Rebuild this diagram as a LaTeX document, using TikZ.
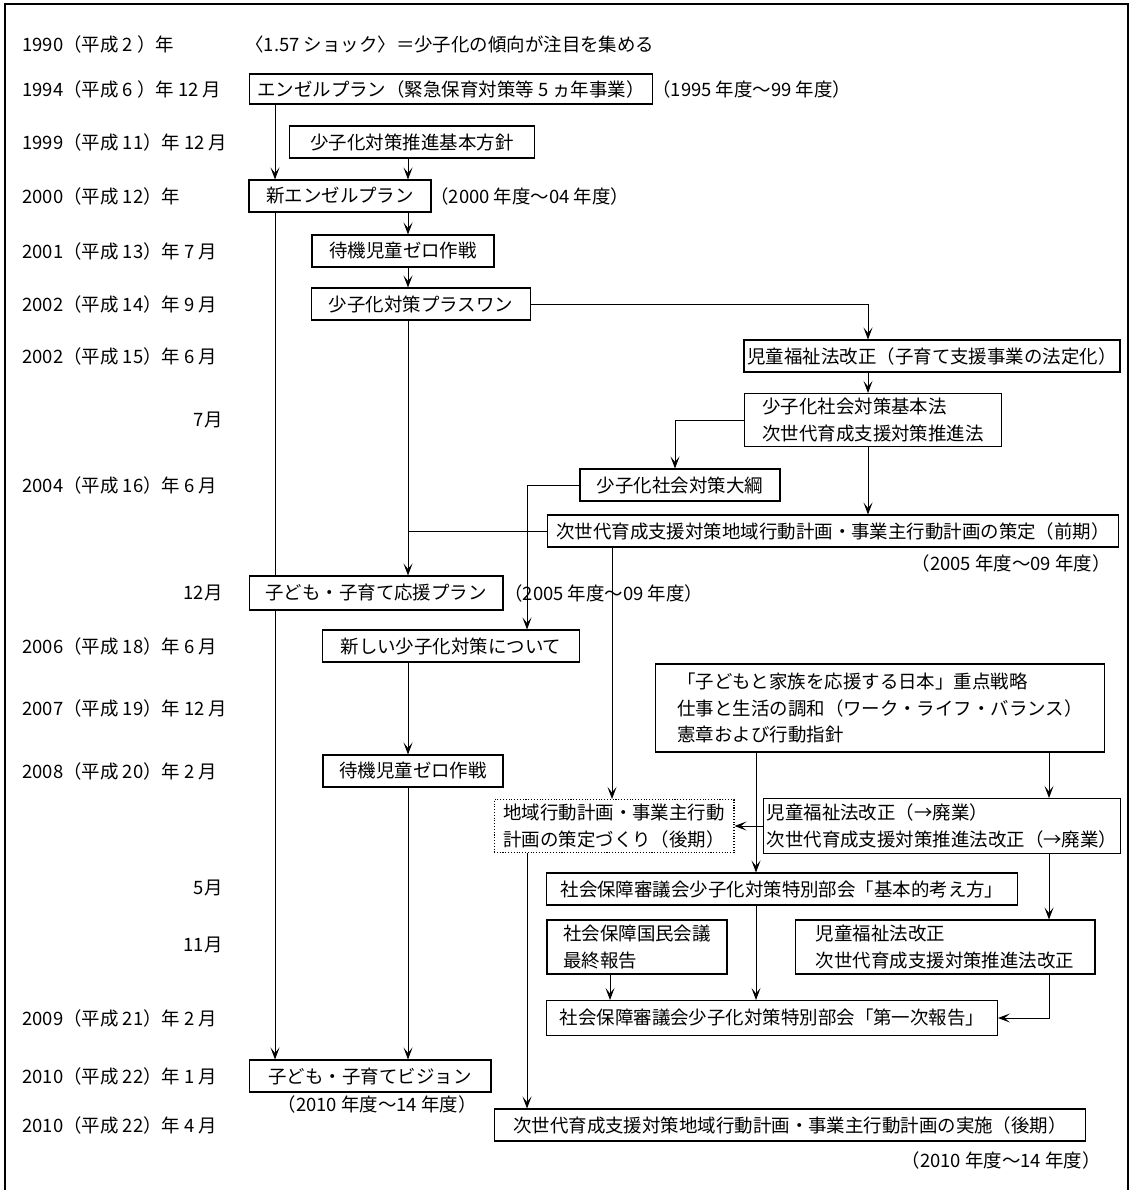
\documentclass[tikz,border=0pt]{standalone}
\usepackage{fontspec}
\setmainfont{Noto Sans CJK JP}
\usetikzlibrary{arrows.meta, positioning}

\begin{document}
\begin{tikzpicture}[x=0.02cm, y=-0.02cm, >={Stealth[length=2.4mm,width=1.8mm,inset=1.1mm]},
    font=\fontsize{10.5}{15}\selectfont,
    box/.style={draw, line width=0.6pt, inner sep=2pt, align=left, minimum height=0.64cm},
    dbox/.style={box, densely dotted},
    yearlbl/.style={anchor=west, inner sep=0pt},
    monlbl/.style={anchor=east, inner sep=0pt},
    note/.style={inner sep=0pt},
    conn/.style={line width=0.5pt}]
\useasboundingbox (0,0) rectangle (1132,1190);
\draw[line width=1.1pt] (5,1190) -- (5,4) -- (1128,4) -- (1128,1190);

\foreach \y/\t [count=\i] in {44/{1990（平成 2 ）年}, 89/{1994（平成 6 ）年 12 月}, 142/{1999（平成 11）年 12 月},
    196/{2000（平成 12）年}, 251/{2001（平成 13）年 7 月}, 304/{2002（平成 14）年 9 月}, 356/{2002（平成 15）年 6 月},
    485/{2004（平成 16）年 6 月}, 646/{2006（平成 18）年 6 月}, 708/{2007（平成 19）年 12 月}, 771/{2008（平成 20）年 2 月},
    1018/{2009（平成 21）年 2 月}, 1076/{2010（平成 22）年 1 月}, 1125/{2010（平成 22）年 4 月}}
  \node[yearlbl] (yr\i) at (22,\y) {\t};
\foreach \y/\t [count=\i] in {420/7月, 593/12月, 888/5月, 945/11月}
  \node[monlbl] (mo\i) at (223,\y) {\t};

\node[note, anchor=west] (shock) at (245,44) {〈1.57 ショック〉＝少子化の傾向が注目を集める};
\node[box, minimum width=8.08cm, minimum height=0.6cm] (angel) at (451,89) {エンゼルプラン（緊急保育対策等 5 ヵ年事業）};
\node[note, anchor=west] (angelyr) at (652,89) {（1995 年度～99 年度）};
\node[box, minimum width=4.9cm] (hoshin) at (412,142) {少子化対策推進基本方針};
\node[box, minimum width=3.64cm] (newangel) at (340,196) {新エンゼルプラン};
\node[note, anchor=west] (newangelyr) at (430,196) {（2000 年度～04 年度）};
\node[box, minimum width=3.64cm] (zero1) at (403,251) {待機児童ゼロ作戦};
\node[box, minimum width=4.38cm] (plusone) at (421,304) {少子化対策プラスワン};
\node[box, minimum width=7.48cm] (jfl1) at (932,356) {児童福祉法改正（子育て支援事業の法定化）};
\node[box, minimum width=5.14cm, minimum height=1.06cm] (basiclaw) at (873,420) {少子化社会対策基本法\\次世代育成支援対策推進法};
\node[box, minimum width=4.0cm] (taikou) at (680,485) {少子化社会対策大綱};
\node[box, minimum width=11.42cm] (plan1) at (833,531) {次世代育成支援対策地域行動計画・事業主行動計画の策定（前期）};
\node[note, anchor=east] (plan1yr) at (1111,563) {（2005 年度～09 年度）};
\node[box, minimum width=5.08cm, minimum height=0.68cm] (ouen) at (376,593) {子ども・子育て応援プラン};
\node[note, anchor=west] (ouenyr) at (504,593) {（2005 年度～09 年度）};
\node[box, minimum width=5.14cm] (newmeas) at (451,646) {新しい少子化対策について};
\node[box, minimum width=9.0cm, minimum height=1.76cm] (senryaku) at (880,708) {「子どもと家族を応援する日本」重点戦略\\仕事と生活の調和（ワーク・ライフ・バランス）\\憲章および行動指針};
\node[box, minimum width=3.6cm] (zero2) at (413,771) {待機児童ゼロ作戦};
\node[dbox, minimum width=4.8cm, minimum height=1.06cm] (plan2) at (614,826) {地域行動計画・事業主行動\\計画の策定づくり（後期）};
\node[box, minimum width=7.06cm, minimum height=1.1cm] (abolish) at (942,826) {児童福祉法改正（→廃業）\\次世代育成支援対策推進法改正（→廃業）};
\node[box, minimum width=9.42cm] (kangae) at (782,889) {社会保障審議会少子化対策特別部会「基本的考え方」};
\node[box, minimum width=3.6cm, minimum height=1.08cm] (kokumin) at (637,947) {社会保障国民会議\\最終報告};
\node[box, minimum width=6.0cm, minimum height=1.08cm] (jfl2) at (945,947) {児童福祉法改正\\次世代育成支援対策推進法改正};
\node[box, minimum width=9.02cm, minimum height=0.7cm] (report1) at (772,1018) {社会保障審議会少子化対策特別部会「第一次報告」};
\node[box, minimum width=4.84cm] (vision) at (370,1076) {子ども・子育てビジョン};
\node[note, anchor=east] (visionyr) at (477,1104) {（2010 年度～14 年度）};
\node[box, minimum width=11.82cm] (plan3) at (790,1125) {次世代育成支援対策地域行動計画・事業主行動計画の実施（後期）};
\node[note, anchor=east] (plan3yr) at (1101,1160) {（2010 年度～14 年度）};

\coordinate (xa) at (275,0);
\coordinate (xb) at (408,0);
\coordinate (xc) at (527,0);
\coordinate (xd) at (612,0);
\coordinate (xe) at (675,0);
\coordinate (xf) at (868,0);
\coordinate (xg) at (756,0);
\coordinate (xh) at (1049,0);
\coordinate (xk) at (610,0);

\path[conn, ->]
  (angel.south -| xa) edge (newangel.north -| xa)
  (hoshin.south -| xb) edge (newangel.north -| xb)
  (ouen.south -| xa) edge (vision.north -| xa)
  (newangel.south -| xb) edge (zero1.north -| xb)
  (zero1.south -| xb) edge (plusone.north -| xb)
  (plusone.south -| xb) edge (ouen.north -| xb)
  (jfl1.south -| xf) edge (basiclaw.north -| xf)
  (basiclaw.south -| xf) edge (plan1.north -| xf)
  (plan1.south -| xd) edge (plan2.north -| xd)
  (newmeas.south -| xb) edge (zero2.north -| xb)
  (zero2.south -| xb) edge (vision.north -| xb)
  (senryaku.south -| xg) edge (kangae.north -| xg)
  (senryaku.south -| xh) edge (abolish.north -| xh)
  (abolish.west) edge (abolish.west -| plan2.east)
  (abolish.south -| xh) edge (jfl2.north -| xh)
  (kangae.south -| xg) edge (report1.north -| xg)
  (kokumin.south -| xk) edge (report1.north -| xk)
  (plan2.south -| xc) edge (plan3.north -| xc);
\draw[conn] (newangel.south -| xa) -- (ouen.north -| xa);
\draw[conn] (plan1.west) -- (plan1.west -| xb);
\draw[conn, ->] (plusone.east) -| (jfl1.north -| xf);
\draw[conn, ->] (basiclaw.west) -| (taikou.north -| xe);
\draw[conn, ->] (taikou.west) -| (newmeas.north -| xc);
\draw[conn, ->] (jfl2.south -| xh) |- (report1.east);
\end{tikzpicture}
\end{document}
